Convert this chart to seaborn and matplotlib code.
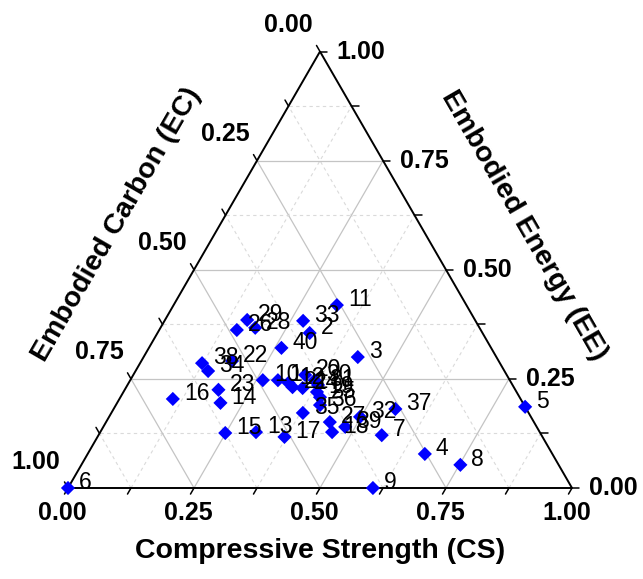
import numpy as np
import pandas as pd
import matplotlib
matplotlib.use('Agg')
import matplotlib.pyplot as plt
import seaborn as sns

# ---------------------------------------------------------
# Data: ternary composition of each mix (CS, EC, EE)
# ---------------------------------------------------------
labels = ['6', '9', '8', '4', '5', '37', '7', '3', '11', '33',
          '2', '40', '29', '26', '28', '22', '38', '34', '16', '23',
          '14', '15', '13', '17', '35', '36', '27', '18', '39', '32',
          '10', '1', '12', '21', '24', '20', '30', '19', '25', '31']
cs = [0.000, 0.605, 0.752, 0.669, 0.814, 0.559, 0.562, 0.425, 0.324, 0.275,
      0.302, 0.263, 0.163, 0.154, 0.188, 0.180, 0.123, 0.144, 0.106, 0.186,
      0.205, 0.249, 0.309, 0.371, 0.380, 0.405, 0.444, 0.460, 0.480, 0.498,
      0.263, 0.293, 0.317, 0.330, 0.351, 0.341, 0.366, 0.384, 0.396, 0.378]
ee = [0.000, 0.000, 0.053, 0.078, 0.186, 0.181, 0.121, 0.300, 0.419, 0.383,
      0.355, 0.321, 0.385, 0.362, 0.367, 0.291, 0.286, 0.268, 0.204, 0.225,
      0.195, 0.126, 0.128, 0.117, 0.172, 0.190, 0.151, 0.128, 0.140, 0.163,
      0.247, 0.247, 0.241, 0.231, 0.229, 0.259, 0.247, 0.220, 0.208, 0.236]
ec = [1.000, 0.395, 0.195, 0.253, 0.000, 0.260, 0.317, 0.275, 0.257, 0.342,
      0.343, 0.416, 0.452, 0.484, 0.445, 0.529, 0.591, 0.588, 0.690, 0.589,
      0.600, 0.625, 0.563, 0.512, 0.448, 0.405, 0.405, 0.412, 0.380, 0.339,
      0.490, 0.460, 0.442, 0.439, 0.420, 0.400, 0.387, 0.396, 0.396, 0.386]

tick_vals = [0.0, 0.25, 0.5, 0.75, 1.0]
tick_text = ['0.00', '0.25', '0.50', '0.75', '1.00']

# ---------------------------------------------------------
# Style
# ---------------------------------------------------------
sns.set_style('white')
plt.rcParams['font.family'] = ['Liberation Sans', 'DejaVu Sans']

H = np.sqrt(3) / 2


def tern(c, e):
    # CS to the right, EE to the top, EC = remainder (bottom-left)
    return np.asarray(c) + 0.5 * np.asarray(e), H * np.asarray(e)


fig = plt.figure(figsize=(6.43, 5.79), dpi=100)
ax = fig.add_axes([0, 0, 1, 1])

# ---------------------------------------------------------
# Grid lines (solid at quarters, dashed at eighths)
# ---------------------------------------------------------
for k in range(1, 8):
    v = k / 8
    if k % 2 == 0:
        kw = dict(color='#c4c4c4', lw=0.9, ls='-')
    else:
        kw = dict(color='#dadada', lw=0.8, ls=(0, (3, 3)))
    # constant EE
    x, y = tern([0, 1 - v], [v, v])
    ax.plot(x, y, zorder=1, **kw)
    # constant CS
    x, y = tern([v, v], [0, 1 - v])
    ax.plot(x, y, zorder=1, **kw)
    # constant EC
    x, y = tern([1 - v, 0], [0, 1 - v])
    ax.plot(x, y, zorder=1, **kw)

# triangle frame
x, y = tern([0, 1, 0, 0], [0, 0, 1, 0])
ax.plot(x, y, color='black', lw=1.4, zorder=2, solid_joinstyle='miter')

# ticks
L = 7 / 504
for k in range(9):
    v = k / 8
    px, py = tern(v, 0)
    ax.plot([px, px - 0.5 * L], [py, py - H * L], color='black', lw=1.1, zorder=2)
    px, py = tern(1 - v, v)
    ax.plot([px, px + L], [py, py], color='black', lw=1.1, zorder=2)
    px, py = tern(0, 1 - v)
    ax.plot([px, px - 0.5 * L], [py, py + H * L], color='black', lw=1.1, zorder=2)

# tick labels
tk = dict(fontsize=18, fontweight='bold', color='black')
for v, t in zip(tick_vals, tick_text):
    px, py = tern(v, 0)
    ax.annotate(t, (px, py), xytext=(-4, -18), textcoords='offset points',
                ha='center', va='center', **tk)
    px, py = tern(1 - v, v)
    ax.annotate(t, (px, py), xytext=(12, 0), textcoords='offset points',
                ha='left', va='center', **tk)
    px, py = tern(0, 1 - v)
    ax.annotate(t, (px, py), xytext=(-23, 19), textcoords='offset points',
                ha='center', va='center', **tk)

# axis titles
ttl = dict(fontsize=20.5, fontweight='bold', color='black', ha='center', va='center')
ax.text(0.5, -0.125, 'Compressive Strength (CS)', **ttl)
d = 0.178
ax.text(0.25 - d * H, 0.5 * H + d * 0.5, 'Embodied Carbon (EC)', rotation=60,
        rotation_mode='anchor', **ttl)
ax.text(0.75 + d * H, 0.5 * H + d * 0.5, 'Embodied Energy (EE)', rotation=-60,
        rotation_mode='anchor', **ttl)

# ---------------------------------------------------------
# Points
# ---------------------------------------------------------
px, py = tern(cs, ee)
df = pd.DataFrame({'x': px, 'y': py, 'label': labels})
sns.scatterplot(data=df, x='x', y='y', marker='D', s=52, color='#0000ff',
                edgecolor='none', ax=ax, zorder=3, clip_on=False, legend=False)

for _, r in df.iterrows():
    ax.annotate(r['label'], (r['x'], r['y']), xytext=(8, 4), textcoords='offset points',
                ha='left', va='center', fontsize=16.5, color='black', zorder=4)

ax.set_xlim(-68 / 504, 575 / 504)
ax.set_ylim(-91 / 504, 488 / 504)
ax.axis('off')

fig.savefig('out.png', dpi=100)
